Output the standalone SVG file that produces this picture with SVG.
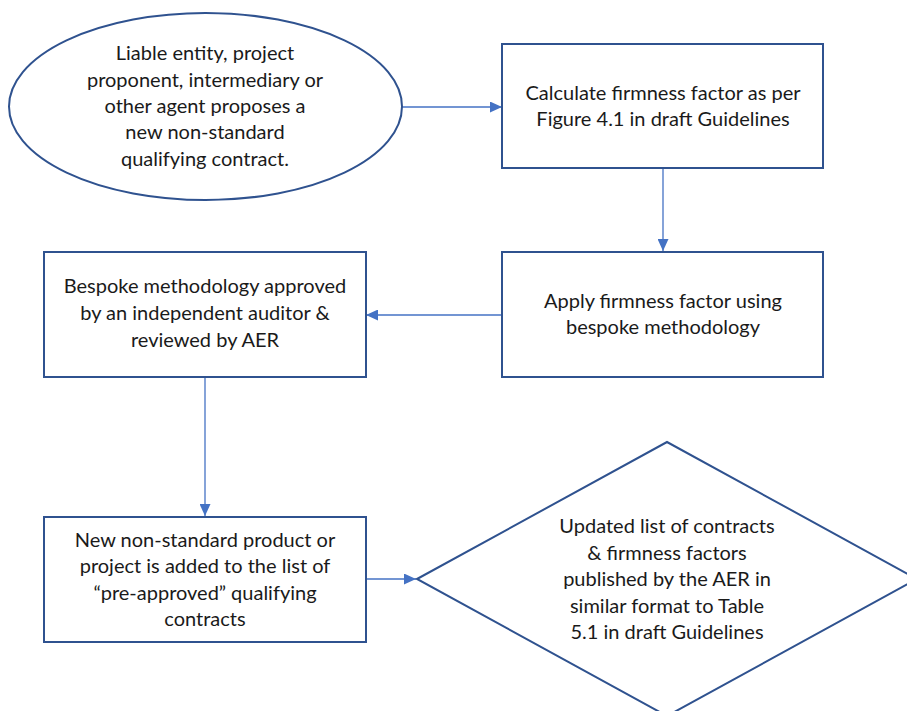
<svg xmlns="http://www.w3.org/2000/svg" width="907" height="711" viewBox="0 0 907 711">
<style>
.shape{fill:#ffffff;stroke:#2F528F;stroke-width:2}
.t{font-family:Lato,"Open Sans","Liberation Sans",sans-serif;font-size:20px;fill:#1a1a1a;text-anchor:middle}
.c{fill:none;stroke:#4472C4;stroke-width:1.3}
</style>
<defs>
<marker id="ah" viewBox="0 0 12 11" refX="12" refY="5.5" markerWidth="12" markerHeight="11" markerUnits="userSpaceOnUse" orient="auto">
<path d="M0,0 L12,5.5 L0,11 Z" fill="#4472C4"/>
</marker>
</defs>
<rect width="907" height="711" fill="#ffffff"/>
<g id="connectors">
<line class="c" x1="402" y1="107" x2="502" y2="107" marker-end="url(#ah)"/>
<line class="c" x1="663" y1="168" x2="663" y2="251" marker-end="url(#ah)"/>
<line class="c" x1="502" y1="315" x2="366" y2="315" marker-end="url(#ah)"/>
<line class="c" x1="205" y1="377" x2="205" y2="516" marker-end="url(#ah)"/>
<line class="c" x1="366" y1="579" x2="416" y2="579" marker-end="url(#ah)"/>
</g>
<g id="start">
<ellipse class="shape" cx="205.5" cy="106.5" rx="196.5" ry="93.5"/>
<text class="t" x="205" y="60">Liable entity, project</text>
<text class="t" x="205" y="87">proponent, intermediary or</text>
<text class="t" x="205" y="113">other agent proposes a</text>
<text class="t" x="205" y="139">new non-standard</text>
<text class="t" x="205" y="166">qualifying contract.</text>
</g>
<g id="calculate">
<rect class="shape" x="502" y="44" width="321" height="124"/>
<text class="t" x="663" y="100">Calculate firmness factor as per</text>
<text class="t" x="663" y="126">Figure 4.1 in draft Guidelines</text>
</g>
<g id="apply">
<rect class="shape" x="502" y="252" width="321" height="125"/>
<text class="t" x="663" y="308">Apply firmness factor using</text>
<text class="t" x="663" y="334">bespoke methodology</text>
</g>
<g id="bespoke">
<rect class="shape" x="44" y="252" width="322" height="125"/>
<text class="t" x="205" y="293">Bespoke methodology approved</text>
<text class="t" x="205" y="320">by an independent auditor &amp;</text>
<text class="t" x="205" y="347">reviewed by AER</text>
</g>
<g id="added">
<rect class="shape" x="44" y="517" width="322" height="125"/>
<text class="t" x="205" y="547">New non-standard product or</text>
<text class="t" x="205" y="573">project is added to the list of</text>
<text class="t" x="205" y="600">“pre-approved” qualifying</text>
<text class="t" x="205" y="626">contracts</text>
</g>
<g id="published">
<polygon class="shape" points="417,579 667,442 917,579 667,716"/>
<text class="t" x="667" y="533">Updated list of contracts</text>
<text class="t" x="667" y="560">&amp; firmness factors</text>
<text class="t" x="667" y="586">published by the AER in</text>
<text class="t" x="667" y="613">similar format to Table</text>
<text class="t" x="667" y="639">5.1 in draft Guidelines</text>
</g>
</svg>
